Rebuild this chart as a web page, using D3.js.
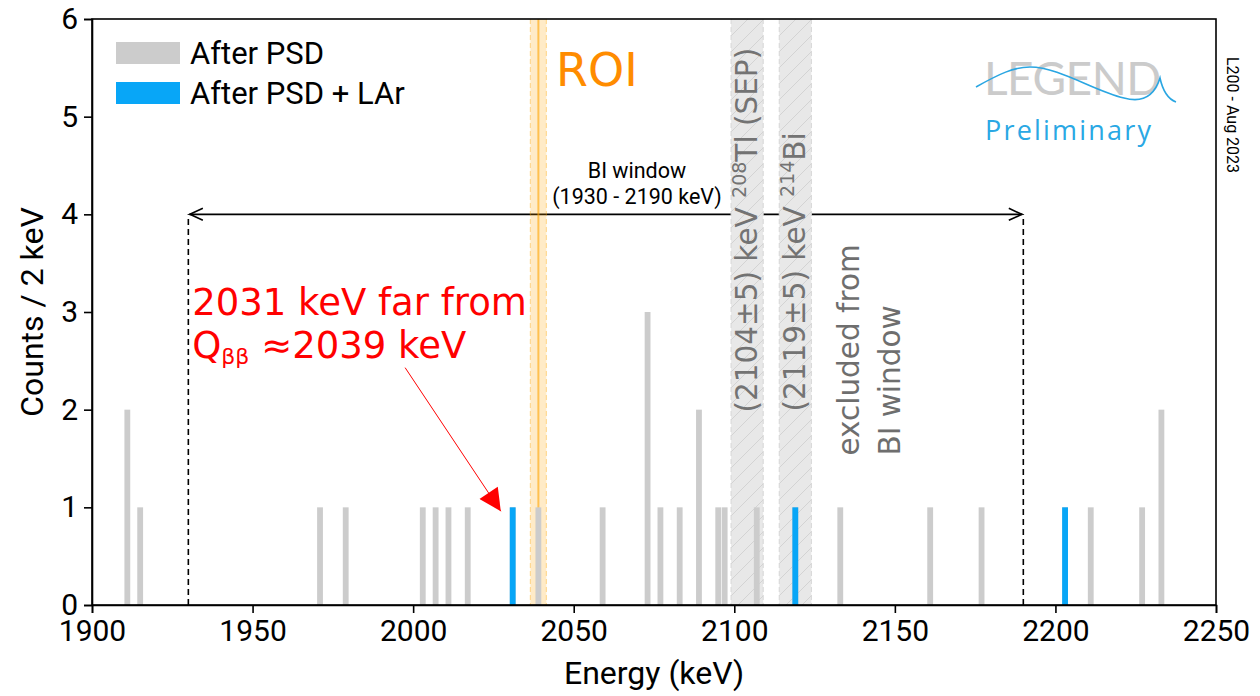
<!DOCTYPE html>
<html>
<head>
<meta charset="utf-8">
<script src="https://cdn.jsdelivr.net/npm/d3@7"></script>
<style>
  body { margin: 0; background: #fff; }
  svg { display: block; }
  .axis text { font-family: Roboto, sans-serif; font-size: 30px; fill: #000; }
  .axis path, .axis line { stroke: #000; stroke-width: 1.6; }
</style>
</head>
<body>
<svg id="chart" width="1260" height="696"></svg>
<script>
// bins are 2 keV wide, energies are the lower bin edge
const psdEnergy = [1910, 1914, 1970, 1978, 2002, 2006, 2010, 2016, 2030, 2038, 2058, 2072, 2076,
  2082, 2088, 2094, 2096, 2106, 2118, 2132, 2160, 2176, 2202, 2210, 2226, 2232];
const psdCounts = [2, 1, 1, 1, 1, 1, 1, 1, 1, 1, 1, 3, 1, 1, 2, 1, 1, 1, 1, 1, 1, 1, 1, 1, 1, 2];
const larEnergy = [2030, 2118, 2202];
const larCounts = [1, 1, 1];
const binWidth = 2;

const xTicks = [1900, 1950, 2000, 2050, 2100, 2150, 2200, 2250];
const yTicks = [0, 1, 2, 3, 4, 5, 6];

const qbb = 2039, roiHalf = 2.5;
const bands = [
  {center: 2104, half: 5, label: '(2104±5) keV ', sup: '208', iso: 'Tl (SEP)'},
  {center: 2119, half: 5, label: '(2119±5) keV ', sup: '214', iso: 'Bi'}
];
const biWindow = [1930, 2190];
const biLevel = 4;

const margin = {top: 19, right: 44, bottom: 91, left: 92};
const width = 1260 - margin.left - margin.right;
const height = 696 - margin.top - margin.bottom;

const svg = d3.select('#chart');

const x = d3.scaleLinear().domain([1900, 2250]).range([0, width]);
const y = d3.scaleLinear().domain([0, 6]).range([height, 0]);

const defs = svg.append('defs');
const hatch = defs.append('pattern')
  .attr('id', 'hatch')
  .attr('patternUnits', 'userSpaceOnUse')
  .attr('width', 16).attr('height', 16);
hatch.append('rect').attr('width', 16).attr('height', 16).attr('fill', '#e8e8e8');
hatch.append('path').attr('d', 'M0,16 L16,0 M-4,4 L4,-4 M12,20 L20,12')
  .attr('stroke', '#d3d3d3').attr('stroke-width', 1);

defs.append('marker')
  .attr('id', 'redhead')
  .attr('viewBox', '0 0 10 10')
  .attr('refX', 10).attr('refY', 5)
  .attr('markerUnits', 'userSpaceOnUse')
  .attr('markerWidth', 24).attr('markerHeight', 22)
  .attr('orient', 'auto')
  .append('path').attr('d', 'M0,0 L10,5 L0,10 z').attr('fill', '#ff0000');

const g = svg.append('g').attr('transform', 'translate(' + margin.left + ',' + margin.top + ')');

// BI window arrow and dashed edges
biWindow.forEach((e) => {
  g.append('line')
    .attr('x1', x(e)).attr('x2', x(e))
    .attr('y1', y(0)).attr('y2', y(biLevel))
    .attr('stroke', '#000').attr('stroke-width', 1.6)
    .attr('stroke-dasharray', '6,4');
});
g.append('line')
  .attr('x1', x(biWindow[0]) + 1).attr('x2', x(biWindow[1]) - 1)
  .attr('y1', y(biLevel)).attr('y2', y(biLevel))
  .attr('stroke', '#000').attr('stroke-width', 1.6);
[[biWindow[0], 1], [biWindow[1], -1]].forEach(([e, dir]) => {
  const tx = x(e) + dir * 1.5, ty = y(biLevel);
  g.append('path')
    .attr('d', 'M' + (tx + dir * 13) + ',' + (ty - 6) + ' L' + tx + ',' + ty + ' L' + (tx + dir * 13) + ',' + (ty + 6))
    .attr('fill', 'none').attr('stroke', '#000').attr('stroke-width', 1.6);
});
g.append('text')
  .attr('x', x(2069.7)).attr('y', y(biLevel) - 36)
  .attr('text-anchor', 'middle')
  .style('font-family', 'Roboto, sans-serif').style('font-size', '21.5px')
  .text('BI window');
g.append('text')
  .attr('x', x(2069.7)).attr('y', y(biLevel) - 10)
  .attr('text-anchor', 'middle')
  .style('font-family', 'Roboto, sans-serif').style('font-size', '21.5px')
  .text('(1930 - 2190 keV)');

// ROI band
g.append('rect')
  .attr('x', x(qbb - roiHalf)).attr('width', x(qbb + roiHalf) - x(qbb - roiHalf))
  .attr('y', 0).attr('height', height)
  .attr('fill', '#ffa500').attr('fill-opacity', 0.22);
[qbb - roiHalf, qbb + roiHalf].forEach((e) => {
  g.append('line')
    .attr('x1', x(e)).attr('x2', x(e)).attr('y1', 0).attr('y2', height)
    .attr('stroke', '#ffa500').attr('stroke-opacity', 0.35)
    .attr('stroke-width', 1.2).attr('stroke-dasharray', '5,3');
});
g.append('line')
  .attr('x1', x(qbb)).attr('x2', x(qbb)).attr('y1', 0).attr('y2', height)
  .attr('stroke', '#ffa500').attr('stroke-opacity', 0.6).attr('stroke-width', 2);

// excluded gamma bands
bands.forEach((b) => {
  g.append('rect')
    .attr('x', x(b.center - b.half)).attr('width', x(b.center + b.half) - x(b.center - b.half))
    .attr('y', 0).attr('height', height)
    .attr('fill', 'url(#hatch)');
  [b.center - b.half, b.center + b.half].forEach((e) => {
    g.append('line')
      .attr('x1', x(e)).attr('x2', x(e)).attr('y1', 0).attr('y2', height)
      .attr('stroke', '#d6d6d6').attr('stroke-width', 1).attr('stroke-dasharray', '5,3');
  });
});

// histograms
g.selectAll('.psd')
  .data(psdEnergy.map((e, i) => ({e: e, c: psdCounts[i]})))
  .join('rect')
  .attr('class', 'psd')
  .attr('x', (d) => x(d.e) + 0.3)
  .attr('width', x(d3.min(psdEnergy) + binWidth) - x(d3.min(psdEnergy)) - 0.6)
  .attr('y', (d) => y(d.c))
  .attr('height', (d) => y(0) - y(d.c))
  .attr('fill', '#cccccc');

g.selectAll('.lar')
  .data(larEnergy.map((e, i) => ({e: e, c: larCounts[i]})))
  .join('rect')
  .attr('class', 'lar')
  .attr('x', (d) => x(d.e) + 0.3)
  .attr('width', x(d3.min(larEnergy) + binWidth) - x(d3.min(larEnergy)) - 0.6)
  .attr('y', (d) => y(d.c))
  .attr('height', (d) => y(0) - y(d.c))
  .attr('fill', '#08a6f7');

// rotated band labels
bands.forEach((b, i) => {
  const t = g.append('text')
    .attr('transform', 'translate(' + (x(b.center) + 10) + ',' + (y(1.97) + (i === 0 ? 0 : -1)) + ') rotate(-90)')
    .style('font-family', '"DejaVu Sans", sans-serif').style('font-size', '29.5px')
    .attr('fill', '#737373');
  t.append('tspan').text(b.label);
  t.append('tspan').attr('dy', -11).style('font-size', '19px').text(b.sup);
  t.append('tspan').attr('dy', 11).text(b.iso);
});
['excluded from', 'BI window'].forEach((s, i) => {
  g.append('text')
    .attr('transform', 'translate(' + (x(2126) + 41 + i * 41) + ',' + y(1.53) + ') rotate(-90)')
    .style('font-family', '"DejaVu Sans", sans-serif').style('font-size', '29.5px')
    .attr('fill', '#6e6e6e')
    .text(s);
});

// ROI label
g.append('text')
  .attr('x', x(2044.5)).attr('y', y(5.31))
  .style('font-family', '"DejaVu Sans", sans-serif').style('font-size', '46px')
  .attr('fill', '#ff8c00')
  .text('ROI');

// red annotation
g.append('text')
  .attr('x', x(1931.2)).attr('y', y(2.97))
  .style('font-family', '"DejaVu Sans", sans-serif').style('font-size', '37px')
  .attr('fill', '#ff0000')
  .text('2031 keV far from');
const q = g.append('text')
  .attr('x', x(1931.2)).attr('y', y(2.53))
  .style('font-family', '"DejaVu Sans", sans-serif').style('font-size', '37px')
  .attr('fill', '#ff0000');
q.append('tspan').text('Q');
q.append('tspan').attr('dy', 6).style('font-size', '22px').text('ββ');
q.append('tspan').attr('dy', -6).text(' ≈2039 keV');
g.append('line')
  .attr('x1', x(1997.5)).attr('y1', y(2.43))
  .attr('x2', x(2027.3)).attr('y2', y(0.96))
  .attr('stroke', '#ff0000').attr('stroke-width', 1)
  .attr('marker-end', 'url(#redhead)');

// legend
const legendItems = [{label: 'After PSD', color: '#cccccc'}, {label: 'After PSD + LAr', color: '#08a6f7'}];
legendItems.forEach((d, i) => {
  const ly = 23 + i * 40;
  g.append('rect').attr('x', 24).attr('y', ly).attr('width', 64).attr('height', 22).attr('fill', d.color);
  g.append('text')
    .attr('x', 98).attr('y', ly + 22)
    .style('font-family', 'Roboto, sans-serif').style('font-size', '31px')
    .text(d.label);
});

// LEGEND logo
const logo = g.append('g').attr('transform', 'translate(' + (width - 232) + ',0)');
logo.append('text')
  .attr('x', 0).attr('y', 76)
  .style('font-family', 'Lato, sans-serif').style('font-size', '46px')
  .attr('fill', '#cbcbcb').attr('letter-spacing', -0.5)
  .text('LEGEND');
logo.append('path')
  .attr('d', 'M-8,68 C15,55 30,48 46,48 C75,48 110,72 140,79 C158,84 170,78 176,59 C179,73 184,80 192,83')
  .attr('fill', 'none').attr('stroke', '#2aa6e2').attr('stroke-width', 1.6);
logo.append('text')
  .attr('x', 1).attr('y', 121)
  .style('font-family', '"Open Sans", sans-serif').style('font-size', '27px')
  .attr('letter-spacing', 2.2)
  .attr('fill', '#2aa8e4')
  .text('Preliminary');

// axes and frame
g.append('rect').attr('width', width).attr('height', height)
  .attr('fill', 'none').attr('stroke', '#000').attr('stroke-width', 1.6);

g.append('g')
  .attr('class', 'axis')
  .attr('transform', 'translate(0,' + height + ')')
  .call(d3.axisBottom(x).tickValues(xTicks).tickFormat(d3.format('d')).tickSizeOuter(0).tickSize(8).tickPadding(7));

g.append('g')
  .attr('class', 'axis')
  .call(d3.axisLeft(y).tickValues(yTicks).tickFormat(d3.format('d')).tickSizeOuter(0).tickSize(8).tickPadding(6));

g.append('text')
  .attr('x', width / 2).attr('y', height + 79)
  .attr('text-anchor', 'middle')
  .style('font-family', 'Roboto, sans-serif').style('font-size', '32px')
  .text('Energy (keV)');

g.append('text')
  .attr('transform', 'translate(' + (-49) + ',' + (height / 2) + ') rotate(-90)')
  .attr('text-anchor', 'middle')
  .style('font-family', 'Roboto, sans-serif').style('font-size', '32px')
  .text('Counts / 2 keV');

svg.append('text')
  .attr('transform', 'translate(1227,57) rotate(90)')
  .style('font-family', 'Roboto, sans-serif').style('font-size', '16px')
  .text('L200 - Aug 2023');
</script>
</body>
</html>
